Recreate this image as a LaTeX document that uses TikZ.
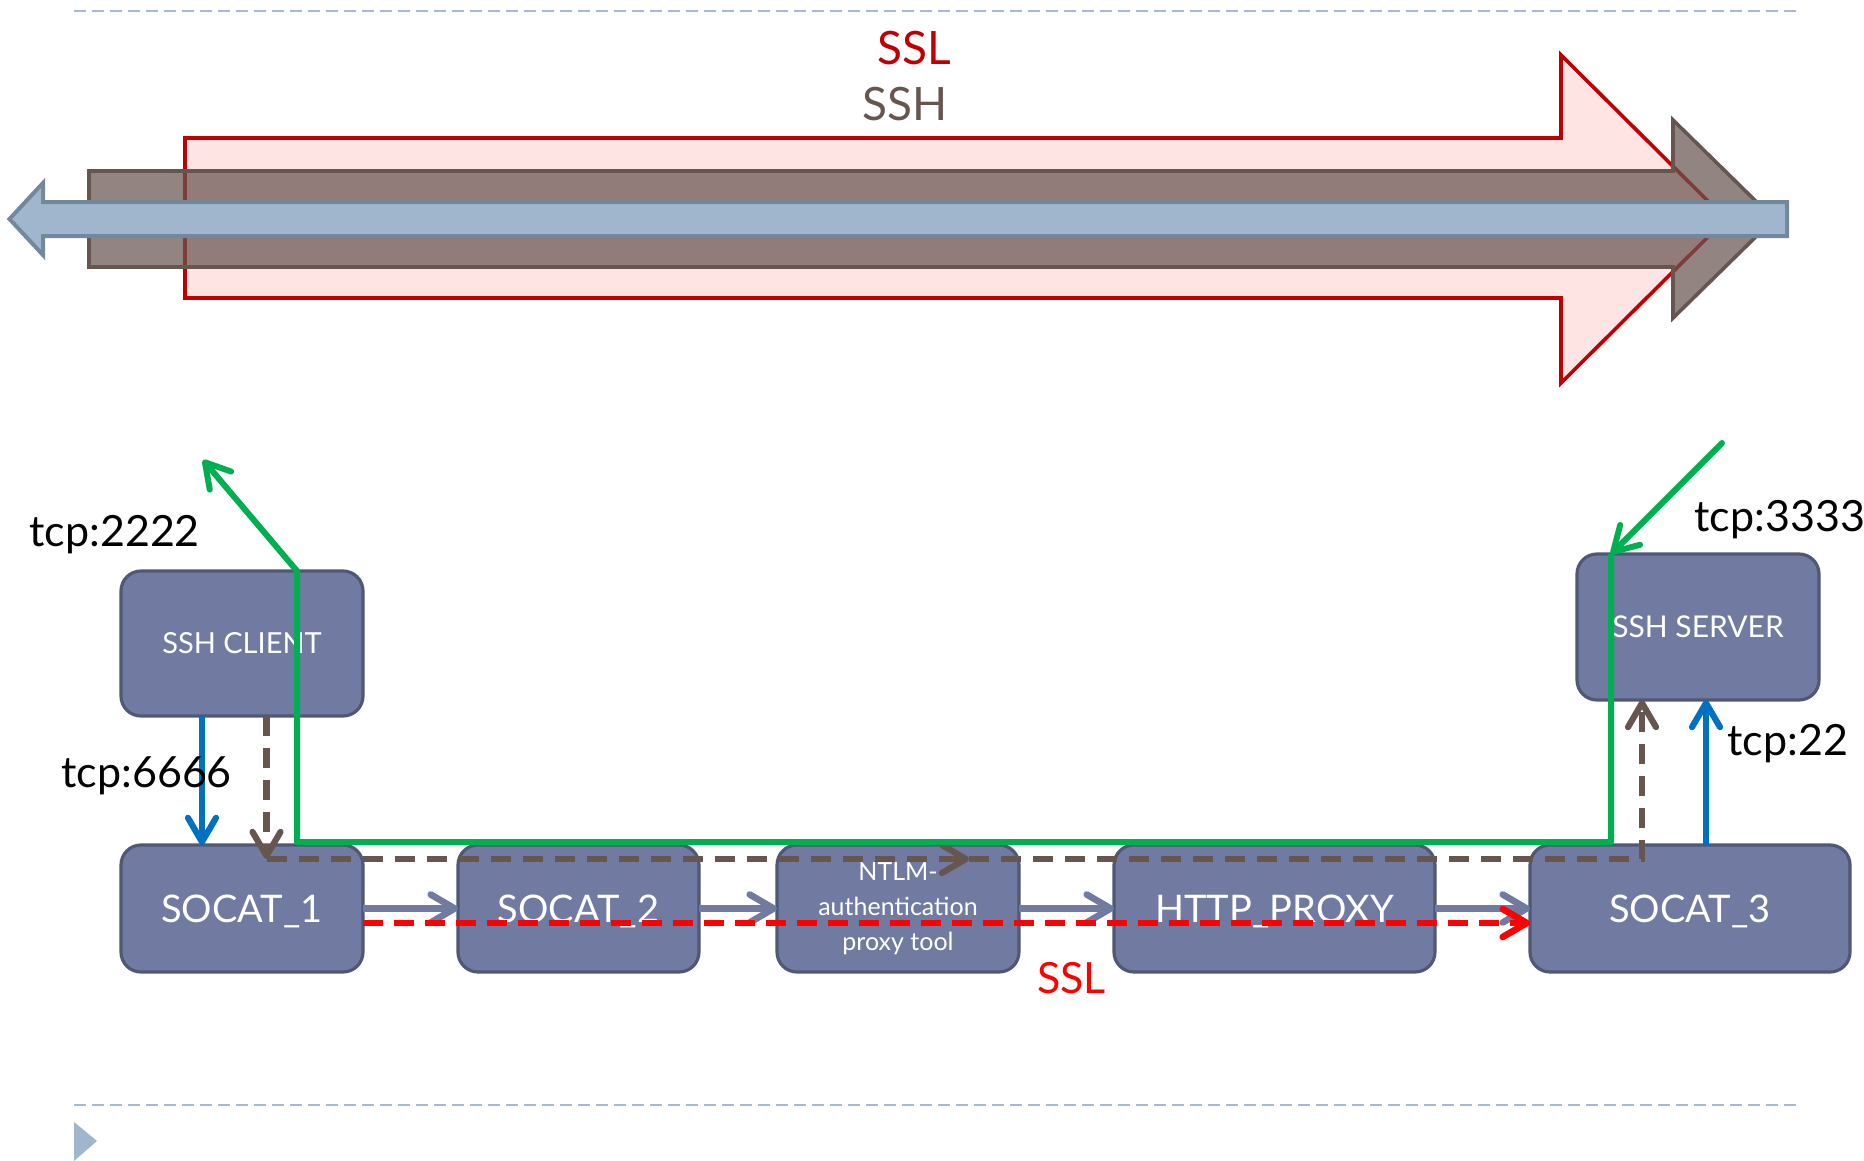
\documentclass[tikz,border=0pt]{standalone}
\usepackage{fontspec}
\setmainfont{Lato}
\usetikzlibrary{arrows.meta}

\definecolor{boxfill}{HTML}{717BA1}
\definecolor{boxline}{HTML}{4F5877}
\definecolor{sslred}{HTML}{C00000}
\definecolor{sslfill}{HTML}{FFE4E4}
\definecolor{sshbrown}{HTML}{675550}
\definecolor{tcpfill}{HTML}{A0B6CC}
\definecolor{tcpline}{HTML}{74889B}
\definecolor{linkgreen}{HTML}{00B050}
\definecolor{portblue}{HTML}{0070C0}
\definecolor{dashred}{HTML}{FF0000}
\definecolor{rulecol}{HTML}{A5B9CF}

\tikzset{
  box/.style={draw=boxline, fill=boxfill, line width=1.6pt, rounded corners=10pt,
    minimum width=121pt, inner sep=0pt, outer sep=0pt, text=white},
  bigtext/.style={font=\fontsize{19}{23}\selectfont, text height=13.6pt, text depth=0pt},
  smalltext/.style={font=\fontsize{14.5}{18}\selectfont, text height=10.4pt, text depth=0pt},
  barb/.style={-{Straight Barb[length=12pt,width=14pt,round]}},
  flow/.style={barb, draw=boxfill, line width=3.3pt},
  sshflow/.style={draw=sshbrown, line width=3.1pt, dash pattern=on 10pt off 6pt},
  sslflow/.style={draw=dashred, line width=3.3pt, dash pattern=on 10pt off 5.5pt},
  tunnel/.style={draw=linkgreen, line width=3pt, line join=round},
  port/.style={barb, draw=portblue, line width=3.1pt},
  portlabel/.style={font=\fontsize{21.5}{26}\selectfont, text=black, inner sep=0pt},
  rule/.style={draw=rulecol, line width=1.3pt, dash pattern=on 6pt off 3pt},
}

\begin{document}
\begin{tikzpicture}[x=0.5pt, y=-0.5pt]
\useasboundingbox (0,0) rectangle (1864,1161);

% slide rules and bullet
\draw[rule] (74,11) -- (1801,11);
\draw[rule] (74,1105) -- (1801,1105);
\fill[tcpfill] (74,1122) -- (97,1141) -- (74,1161) -- cycle;

% protocol layers: SSL wraps SSH wraps the tcp tunnel
\filldraw[fill=sslfill, draw=sslred, line width=1.8pt]
  (185,138) -- (1561,138) -- (1561,55) -- (1726,219) -- (1561,383) -- (1561,298) -- (185,298) -- cycle;
\filldraw[fill=sshbrown, fill opacity=0.72, draw=sshbrown, line width=1.8pt]
  (89,171) -- (1673,171) -- (1673,120) -- (1774,219) -- (1673,318) -- (1673,267) -- (89,267) -- cycle;
\filldraw[fill=tcpfill, draw=tcpline, line width=2pt]
  (43,202) -- (1787,202) -- (1787,236) -- (43,236) -- (43,255) -- (9.5,219) -- (43,183) -- cycle;

\node[text=sslred, font=\fontsize{23}{28}\selectfont, anchor=base, inner sep=0pt] (ssltop) at (914,65) {SSL};
\node[text=sshbrown, font=\fontsize{23}{28}\selectfont, anchor=base, inner sep=0pt] (sshtop) at (905.5,121) {SSH};

% components
\node[box, smalltext, minimum height=72.5pt] (client) at (242,643.5) {SSH CLIENT};
\node[box, smalltext, minimum height=73pt, text height=10.75pt, font=\fontsize{15}{18}\selectfont] (server) at (1698,627) {SSH SERVER};
\node[box, bigtext, minimum height=63.5pt] (socat1) at (242,908.5) {SOCAT\_1};
\node[box, bigtext, minimum height=63.5pt, minimum width=120.5pt] (socat2) at (578.5,908.5) {SOCAT\_2};
\node[box, minimum height=63.5pt, align=center,
      font=\fontsize{12.5}{17.5}\selectfont] (ntlm) at (898,908.5) {NTLM-\\authentication\\proxy tool};
\node[box, bigtext, minimum height=63.5pt, minimum width=160.5pt] (http) at (1274.5,908.5) {HTTP\_PROXY};
\node[box, bigtext, minimum height=63.5pt, minimum width=160pt] (socat3) at (1690,908.5) {SOCAT\_3};

% tcp hops between the processes
\draw[flow] (socat1.east) -- (socat2.west);
\draw[flow] (socat2.east) -- (ntlm.west);
\draw[flow] (ntlm.east) -- (http.west);
\draw[flow] (http.east) -- (socat3.west);

% SSL session from SOCAT_1 to SOCAT_3
\draw[sslflow, -{Straight Barb[length=12pt,width=14pt,round]}]
  ([yshift=-7.25pt]socat1.east) -- ([yshift=-7.25pt]socat3.west);

% SSH session from client to server
\coordinate (sshdown) at ([xshift=12.25pt,yshift=-7pt]socat1.north);
\coordinate (sshmid) at ([xshift=35.5pt,yshift=-7pt]ntlm.north);
\coordinate (sshup) at ([xshift=-24pt,yshift=-7pt]socat3.north);
\draw[sshflow, -{Straight Barb[length=12pt,width=14pt,round]}] (sshdown |- client.south) -- (sshdown);
\draw[sshflow, -{Straight Barb[length=12pt,width=14pt,round]}] (sshdown) -- (sshmid);
\draw[sshflow, -{Straight Barb[length=12pt,width=14pt,round]}] (sshmid) -- (sshup) -- (sshup |- server.south);

% reverse tunnel 3333 -> 2222
\coordinate (tunleft) at ([xshift=27.5pt,yshift=1.5pt]socat1.north);
\coordinate (tunright) at ([xshift=-39.5pt,yshift=1.5pt]socat3.north);
\coordinate (tunin) at (1722,443);
\coordinate (tunout) at (203,460);
\draw[tunnel, line cap=round, barb] (tunin) -- (tunright |- server.north);
\draw[tunnel, barb] (tunright |- server.north) -- (tunright) -- (tunleft) -- (tunleft |- client.north) -- (tunout);

% local ports
\draw[port] ([xshift=-20pt]client.south) -- ([xshift=-20pt]socat1.north);
\draw[port] ([xshift=8pt]socat3.north) -- ([xshift=8pt]socat3.north |- server.south);

\node[portlabel, anchor=base west] (p2222) at (29,546) {tcp:2222};
\node[portlabel, anchor=base west] (p6666) at (61,787) {tcp:6666};
\node[portlabel, anchor=base west] (p3333) at (1694,531) {tcp:3333};
\node[portlabel, anchor=base west] (p22) at (1727,755) {tcp:22};
\node[text=dashred, font=\fontsize{21.5}{26}\selectfont, anchor=base, inner sep=0pt] (sslbottom) at (1071.5,993) {SSL};
\end{tikzpicture}
\end{document}
